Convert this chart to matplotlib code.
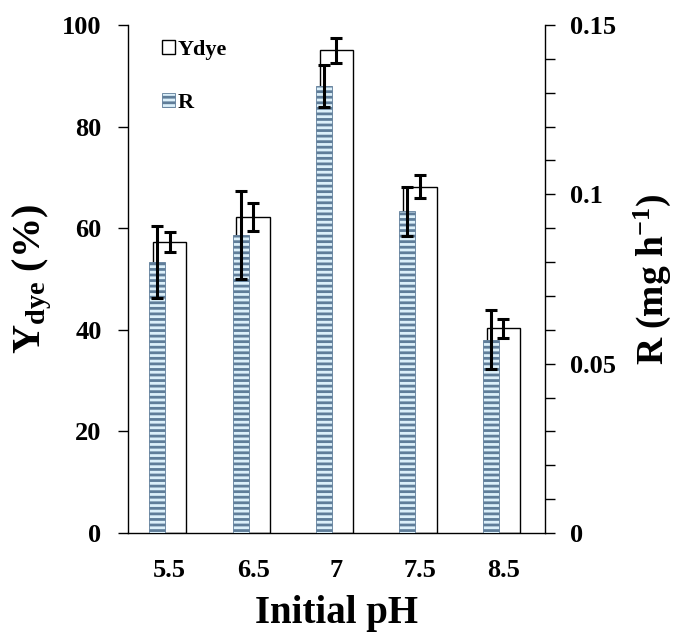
import numpy as np
import matplotlib
matplotlib.use("Agg")
import matplotlib.pyplot as plt
from matplotlib.ticker import MultipleLocator, FuncFormatter

# Data
ph_labels = ['5.5', '6.5', '7', '7.5', '8.5']
ydye = [57.3, 62.2, 95.0, 68.2, 40.3]        # %
ydye_err = [1.9, 2.8, 2.5, 2.2, 1.9]
rate = [0.080, 0.088, 0.132, 0.095, 0.057]  # mg h-1
rate_err = [0.0107, 0.0129, 0.0062, 0.0073, 0.0087]

plt.rcParams['font.family'] = ['Liberation Serif', 'DejaVu Serif']
plt.rcParams['font.weight'] = 'bold'
plt.rcParams['axes.labelweight'] = 'bold'
plt.rcParams['mathtext.fontset'] = 'custom'
plt.rcParams['mathtext.rm'] = 'Liberation Serif:bold'
plt.rcParams['mathtext.it'] = 'Liberation Serif:bold'
plt.rcParams['mathtext.bf'] = 'Liberation Serif:bold'
plt.rcParams['axes.unicode_minus'] = False
plt.rcParams['hatch.linewidth'] = 2.0

x = np.arange(len(ph_labels))
hatch_col = '#5f7d99'

fig = plt.figure(figsize=(6.78, 6.37), dpi=100)
ax = fig.add_axes([0.1888, 0.1633, 0.615, 0.7975])
ax2 = ax.twinx()

# Ydye bars (white, black outline) on the left axis
ax.bar(x, ydye, width=0.4, color='white', edgecolor='black', linewidth=1.0,
       label='Ydye', zorder=2)
ax.errorbar(x, ydye, yerr=ydye_err, fmt='none', ecolor='black',
            elinewidth=2.2, capsize=4.5, capthick=2.2, zorder=3)

# R bars (striped) on the right axis
ax2.bar(x - 0.15, rate, width=0.19, color='#dcf0fa', edgecolor=hatch_col,
        linewidth=0.6, hatch='---', label='R', zorder=2)
ax2.errorbar(x - 0.15, rate, yerr=rate_err, fmt='none', ecolor='black',
             elinewidth=2.2, capsize=4.5, capthick=2.2, zorder=3)

ax.set_xlim(-0.5, len(x) - 0.5)
ax.set_ylim(0, 100)
ax2.set_ylim(0, 0.15)

ax.yaxis.set_major_locator(MultipleLocator(20))
ax2.yaxis.set_major_locator(MultipleLocator(0.05))
ax2.yaxis.set_minor_locator(MultipleLocator(0.01))
ax2.yaxis.set_major_formatter(FuncFormatter(lambda v, p: '{:g}'.format(round(v, 3))))

ax.set_xticks(x)
ax.set_xticklabels(ph_labels)
ax.tick_params(axis='x', length=0, pad=19, labelsize=19)
ax.tick_params(axis='y', direction='out', length=7, width=1, pad=12, labelsize=19)
ax2.tick_params(axis='y', which='both', direction='out', length=7, width=1,
                pad=11, labelsize=19)

for a in (ax, ax2):
    a.spines['top'].set_visible(False)
ax.spines['right'].set_visible(False)
for s in ('left', 'bottom'):
    ax.spines[s].set_linewidth(1.0)
ax2.spines['right'].set_linewidth(1.0)
ax2.spines['left'].set_visible(False)
ax2.spines['bottom'].set_visible(False)

ax.set_xlabel('Initial pH', fontsize=28, labelpad=9)
ax.set_ylabel(r'$\mathrm{Y_{dye}}$ (%)', fontsize=29, labelpad=6)
ax2.set_ylabel(r'R (mg h$^{\mathrm{-1}}$)', fontsize=27, labelpad=11)

h1, l1 = ax.get_legend_handles_labels()
h2, l2 = ax2.get_legend_handles_labels()
ax2.legend(h1 + h2, l1 + l2, loc='upper left', bbox_to_anchor=(0.222, 0.955),
           bbox_transform=fig.transFigure, frameon=False, fontsize=16,
           handlelength=0.6, handleheight=0.6, handletextpad=0.12,
           labelspacing=1.5, borderpad=0)

fig.savefig('out.png', dpi=100)
